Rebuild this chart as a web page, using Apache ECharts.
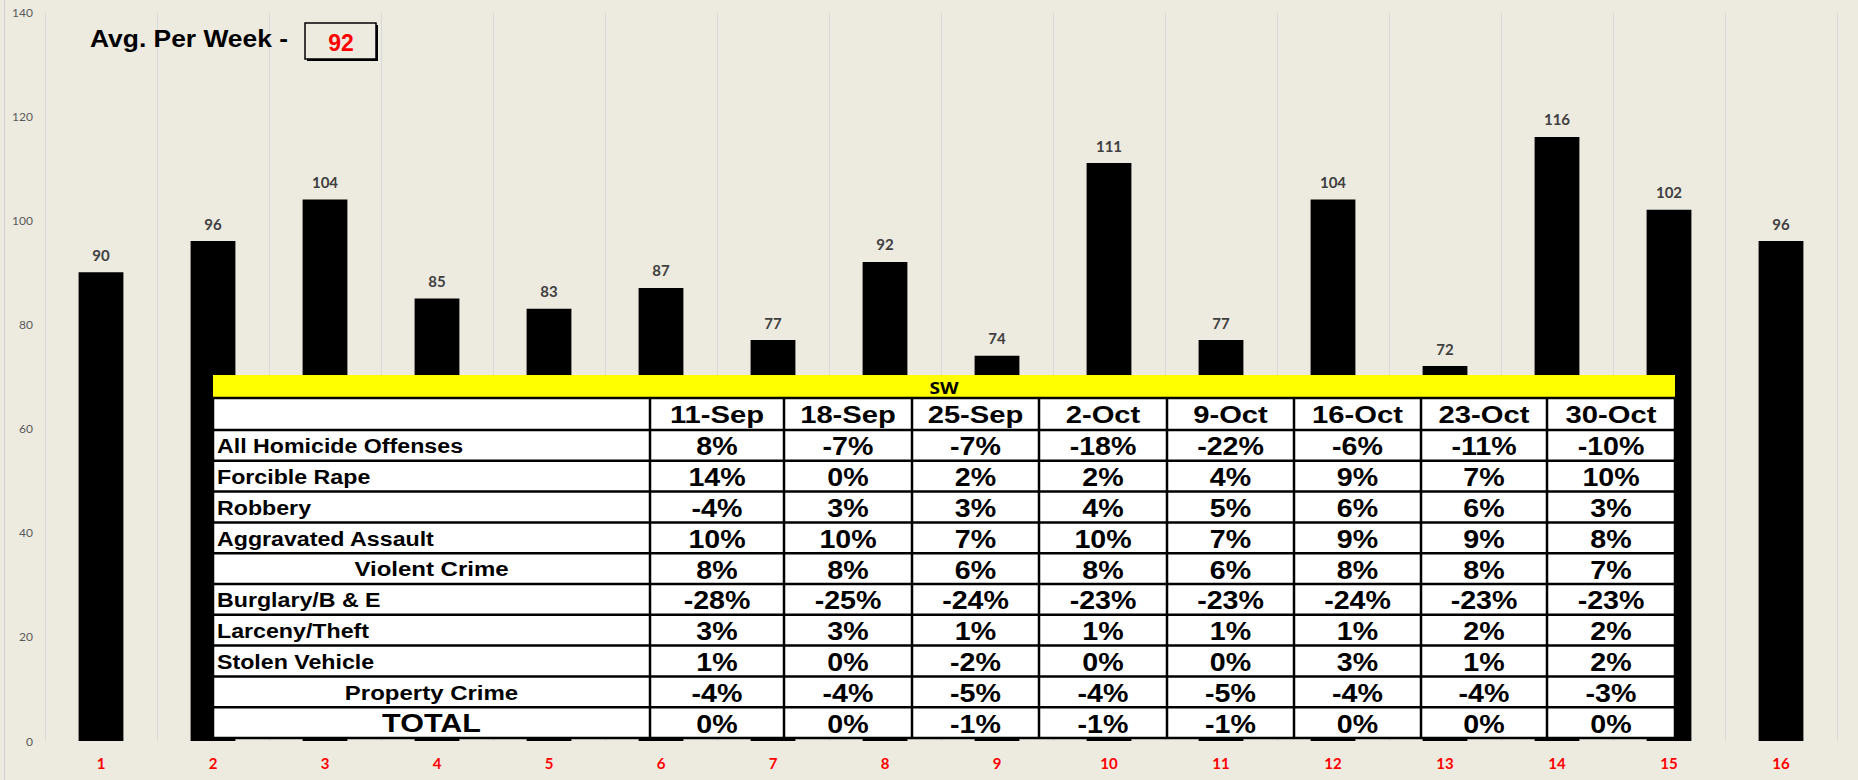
<!DOCTYPE html>
<html>
<head>
<meta charset="utf-8">
<script src="https://cdn.jsdelivr.net/npm/echarts@6.0.0/dist/echarts.min.js"></script>
<style>
html, body { margin: 0; padding: 0; background: #EDEBE0; }
#main { width: 1858px; height: 780px; }
</style>
</head>
<body>
<div id="main"></div>
<script>
// weekly counts (bars)
var weeks = ['1', '2', '3', '4', '5', '6', '7', '8', '9', '10', '11', '12', '13', '14', '15', '16'];
var crimeCounts = [90, 96, 104, 85, 83, 87, 77, 92, 74, 111, 77, 104, 72, 116, 102, 96];
var yTicks = [0, 20, 40, 60, 80, 100, 120, 140];

// SW table
var tableTitle = 'SW';
var tableDates = ['11-Sep', '18-Sep', '25-Sep', '2-Oct', '9-Oct', '16-Oct', '23-Oct', '30-Oct'];
var rowLabels = ['All Homicide Offenses', 'Forcible Rape', 'Robbery', 'Aggravated Assault', 'Violent Crime',
                 'Burglary/B & E', 'Larceny/Theft', 'Stolen Vehicle', 'Property Crime', 'TOTAL'];
var homicide = [8, -7, -7, -18, -22, -6, -11, -10];
var rape = [14, 0, 2, 2, 4, 9, 7, 10];
var robbery = [-4, 3, 3, 4, 5, 6, 6, 3];
var aggAssault = [10, 10, 7, 10, 7, 9, 9, 8];
var violentCrime = [8, 8, 6, 8, 6, 8, 8, 7];
var burglary = [-28, -25, -24, -23, -23, -24, -23, -23];
var larceny = [3, 3, 1, 1, 1, 1, 2, 2];
var stolenVehicle = [1, 0, -2, 0, 0, 3, 1, 2];
var propertyCrime = [-4, -4, -5, -4, -5, -4, -4, -3];
var total = [0, 0, -1, -1, -1, 0, 0, 0];
var tableRows = [homicide, rape, robbery, aggAssault, violentCrime, burglary, larceny, stolenVehicle, propertyCrime, total];

window.onload = function () {
    var chartDom = document.getElementById('main');
    var myChart = echarts.init(chartDom, null, { renderer: 'svg' });

    var sum = 0;
    crimeCounts.forEach(function (v) { sum += v; });
    var avg = Math.round(sum / crimeCounts.length);

    var ARIAL = '"Liberation Sans", Arial, sans-serif';

    function txt(x, y, s, font, align, color, sx) {
        return {
            type: 'text', x: x, y: y, scaleX: sx || 1, z: 120,
            style: { text: s, font: font, fill: color || '#000', align: align, textAlign: align,
                     verticalAlign: 'middle', textVerticalAlign: 'middle' }
        };
    }
    function hline(x1, x2, y, w) {
        return { type: 'line', z: 115, shape: { x1: x1, y1: y, x2: x2, y2: y }, style: { stroke: '#000', lineWidth: w || 2.5 } };
    }
    function vline(x, y1, y2, w) {
        return { type: 'line', z: 115, shape: { x1: x, y1: y1, x2: x, y2: y2 }, style: { stroke: '#000', lineWidth: w || 2.5 } };
    }

    // table layout
    var tblLeft = 213, tblRight = 1675;
    var yellowTop = 375, headTop = 398, headBottom = 430, rowH = 30.8;
    var colEdges = [650, 784, 912, 1039, 1167, 1294, 1421, 1547, 1675];
    var tblBottom = headBottom + rowH * rowLabels.length;

    var els = [];
    // chart area left border
    els.push({ type: 'line', z: 1, shape: { x1: 4.5, y1: 0, x2: 4.5, y2: 780 }, style: { stroke: '#D0D0D0', lineWidth: 1 } });

    // average box
    els.push(txt(90, 38, 'Avg. Per Week -', 'bold 24px ' + ARIAL, 'left', '#000', 1.1));
    els.push({ type: 'rect', z: 110, shape: { x: 307, y: 25, width: 71, height: 36 }, style: { fill: '#000' } });
    els.push({ type: 'rect', z: 111, shape: { x: 305, y: 23, width: 71, height: 36 }, style: { fill: '#EDEBE0', stroke: '#000', lineWidth: 1.5 } });
    els.push(txt(341, 43, String(avg), 'bold 23px ' + ARIAL, 'center', '#FF0000', 1));

    // table background
    els.push({ type: 'rect', z: 110, shape: { x: tblLeft, y: yellowTop, width: tblRight - tblLeft, height: headTop - yellowTop }, style: { fill: '#FFFF00' } });
    els.push({ type: 'rect', z: 110, shape: { x: tblLeft, y: headTop, width: tblRight - tblLeft, height: tblBottom - headTop }, style: { fill: '#FFFFFF' } });
    els.push(txt((tblLeft + tblRight) / 2, (yellowTop + headTop) / 2 + 1, tableTitle, 'bold 16px "Open Sans", sans-serif', 'center', '#000', 1.2));

    // grid lines
    els.push(hline(tblLeft, tblRight, headTop));
    els.push(hline(tblLeft, tblRight, headBottom));
    for (var r = 1; r <= rowLabels.length; r++) {
        els.push(hline(tblLeft, tblRight, headBottom + r * rowH));
    }
    els.push(vline(tblLeft, headTop, tblBottom));
    colEdges.forEach(function (x) { els.push(vline(x, headTop, tblBottom)); });

    // header dates
    tableDates.forEach(function (d, i) {
        var cx = (colEdges[i] + colEdges[i + 1]) / 2;
        els.push(txt(cx, (headTop + headBottom) / 2 + 1, d, 'bold 23px ' + ARIAL, 'center', '#000', 1.27));
    });

    // rows
    rowLabels.forEach(function (lab, r) {
        var cy = headBottom + rowH * (r + 0.5) + 1;
        if (lab === 'TOTAL') {
            els.push(txt((tblLeft + colEdges[0]) / 2, cy, lab, 'bold 25px ' + ARIAL, 'center', '#000', 1.22));
        } else if (lab === 'Violent Crime' || lab === 'Property Crime') {
            els.push(txt((tblLeft + colEdges[0]) / 2, cy, lab, 'bold 20px ' + ARIAL, 'center', '#000', 1.2));
        } else {
            els.push(txt(217, cy, lab, 'bold 20px ' + ARIAL, 'left', '#000', 1.16));
        }
        tableRows[r].forEach(function (v, i) {
            var cx = (colEdges[i] + colEdges[i + 1]) / 2;
            els.push(txt(cx, cy, v + '%', 'bold 26px ' + ARIAL, 'center', '#000', 1.1));
        });
    });

    var option = {
        backgroundColor: '#EDEBE0',
        animation: false,
        grid: { left: 45, right: 21, top: 12, bottom: 39 },
        xAxis: {
            type: 'category',
            data: weeks,
            axisLine: { show: false },
            axisTick: { show: false },
            splitLine: { show: true, lineStyle: { color: '#D9D9D9', width: 1 } },
            axisLabel: { color: '#FF0000', fontWeight: 'bold', fontSize: 15, fontFamily: 'Lato', margin: 14 }
        },
        yAxis: {
            type: 'value',
            min: yTicks[0],
            max: yTicks[yTicks.length - 1],
            interval: yTicks[1] - yTicks[0],
            axisLine: { show: false },
            axisTick: { show: false },
            splitLine: { show: false },
            axisLabel: { color: '#595959', fontSize: 12, fontFamily: 'Lato', margin: 12 }
        },
        series: [{
            type: 'bar',
            data: crimeCounts,
            barWidth: '40%',
            itemStyle: { color: '#000000' },
            label: {
                show: true,
                position: 'top',
                distance: 10,
                color: '#404040',
                fontWeight: 'bold',
                fontSize: 15,
                fontFamily: 'Lato'
            }
        }],
        graphic: { elements: els }
    };
    option && myChart.setOption(option);
};
</script>
</body>
</html>
